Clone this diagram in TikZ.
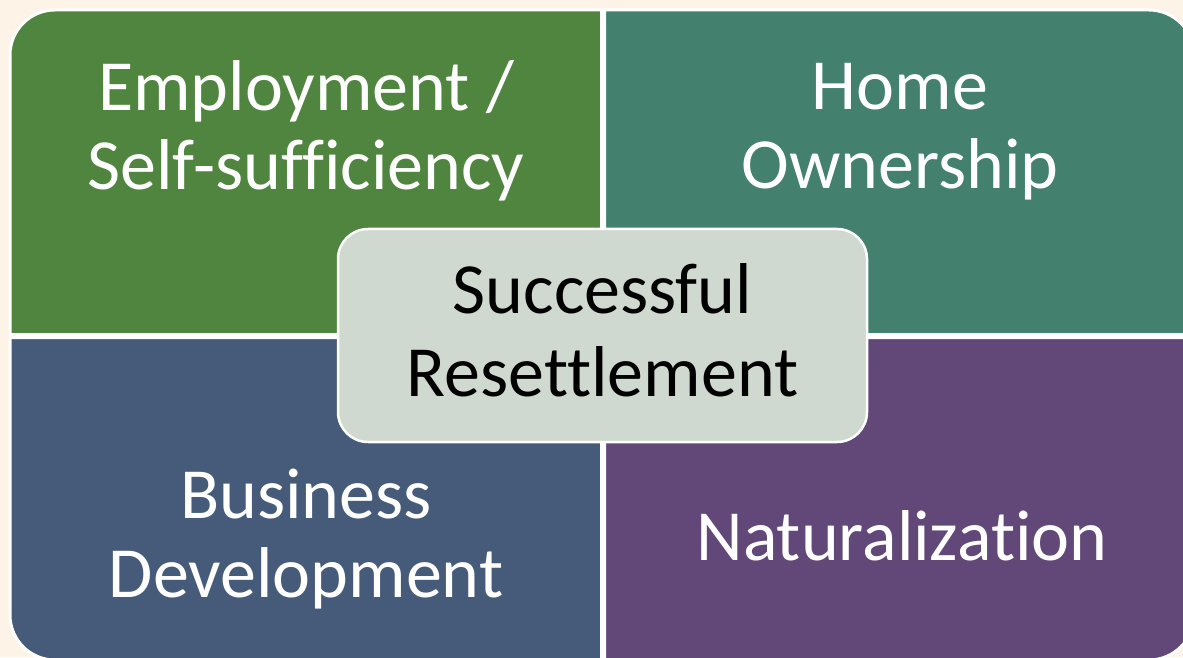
\documentclass[tikz,border=0pt]{standalone}
\usepackage{fontspec}
\setmainfont[Ligatures=NoCommon]{Carlito}
\definecolor{bgc}{HTML}{FDF3E6}
\definecolor{qgreen}{HTML}{4F853F}
\definecolor{qteal}{HTML}{43806E}
\definecolor{qblue}{HTML}{465A7A}
\definecolor{qpurple}{HTML}{614878}
\definecolor{cbox}{HTML}{CFD9CF}
\begin{document}
\begin{tikzpicture}[x=1pt,y=1pt,
  quad/.style={draw=white,line width=3pt},
  qtext/.style={text=white,align=center,inner sep=0pt,anchor=base,
    font=\fontsize{72}{79}\selectfont},
  centrebox/.style={fill=cbox,draw=white,line width=2.5pt,rounded corners=30pt,
    minimum width=529pt,minimum height=213pt,inner sep=0pt},
  ctext/.style={text=black,align=center,inner sep=0pt,anchor=base,
    font=\fontsize{72}{83}\selectfont}]
\useasboundingbox (0,0) rectangle (1183,657);
\clip (0,0) rectangle (1183,657);
\fill[bgc] (0,0) rectangle (1183,657);
% quadrants
\path[quad,fill=qgreen] (601.5,322.5) -- (10,322.5) -- (10,602)
  arc[start angle=180,end angle=90,radius=45] -- (601.5,647) -- cycle;
\path[quad,fill=qteal] (604.5,322.5) -- (1194,322.5) -- (1194,602)
  arc[start angle=0,end angle=90,radius=45] -- (604.5,647) -- cycle;
\path[quad,fill=qblue] (601.5,319.5) -- (10,319.5) -- (10,42)
  arc[start angle=180,end angle=270,radius=45] -- (601.5,-3) -- cycle;
\path[quad,fill=qpurple] (604.5,319.5) -- (1194,319.5) -- (1194,42)
  arc[start angle=0,end angle=-90,radius=45] -- (604.5,-3) -- cycle;
% labels
\node[qtext] (emp) at (306,467) {Employment /\\Self-sufficiency};
\node[qtext] (home) at (900,468) {Home\\Ownership};
\node[qtext] (bus) at (306,60) {Business\\Development};
\node[qtext] (nat) at (902,97) {Naturalization};
% centre
\node[centrebox] (centre) at (602.5,321.5) {};
\node[ctext] (succ) at (602.5,261) {Successful\\Resettlement};
\end{tikzpicture}
\end{document}
